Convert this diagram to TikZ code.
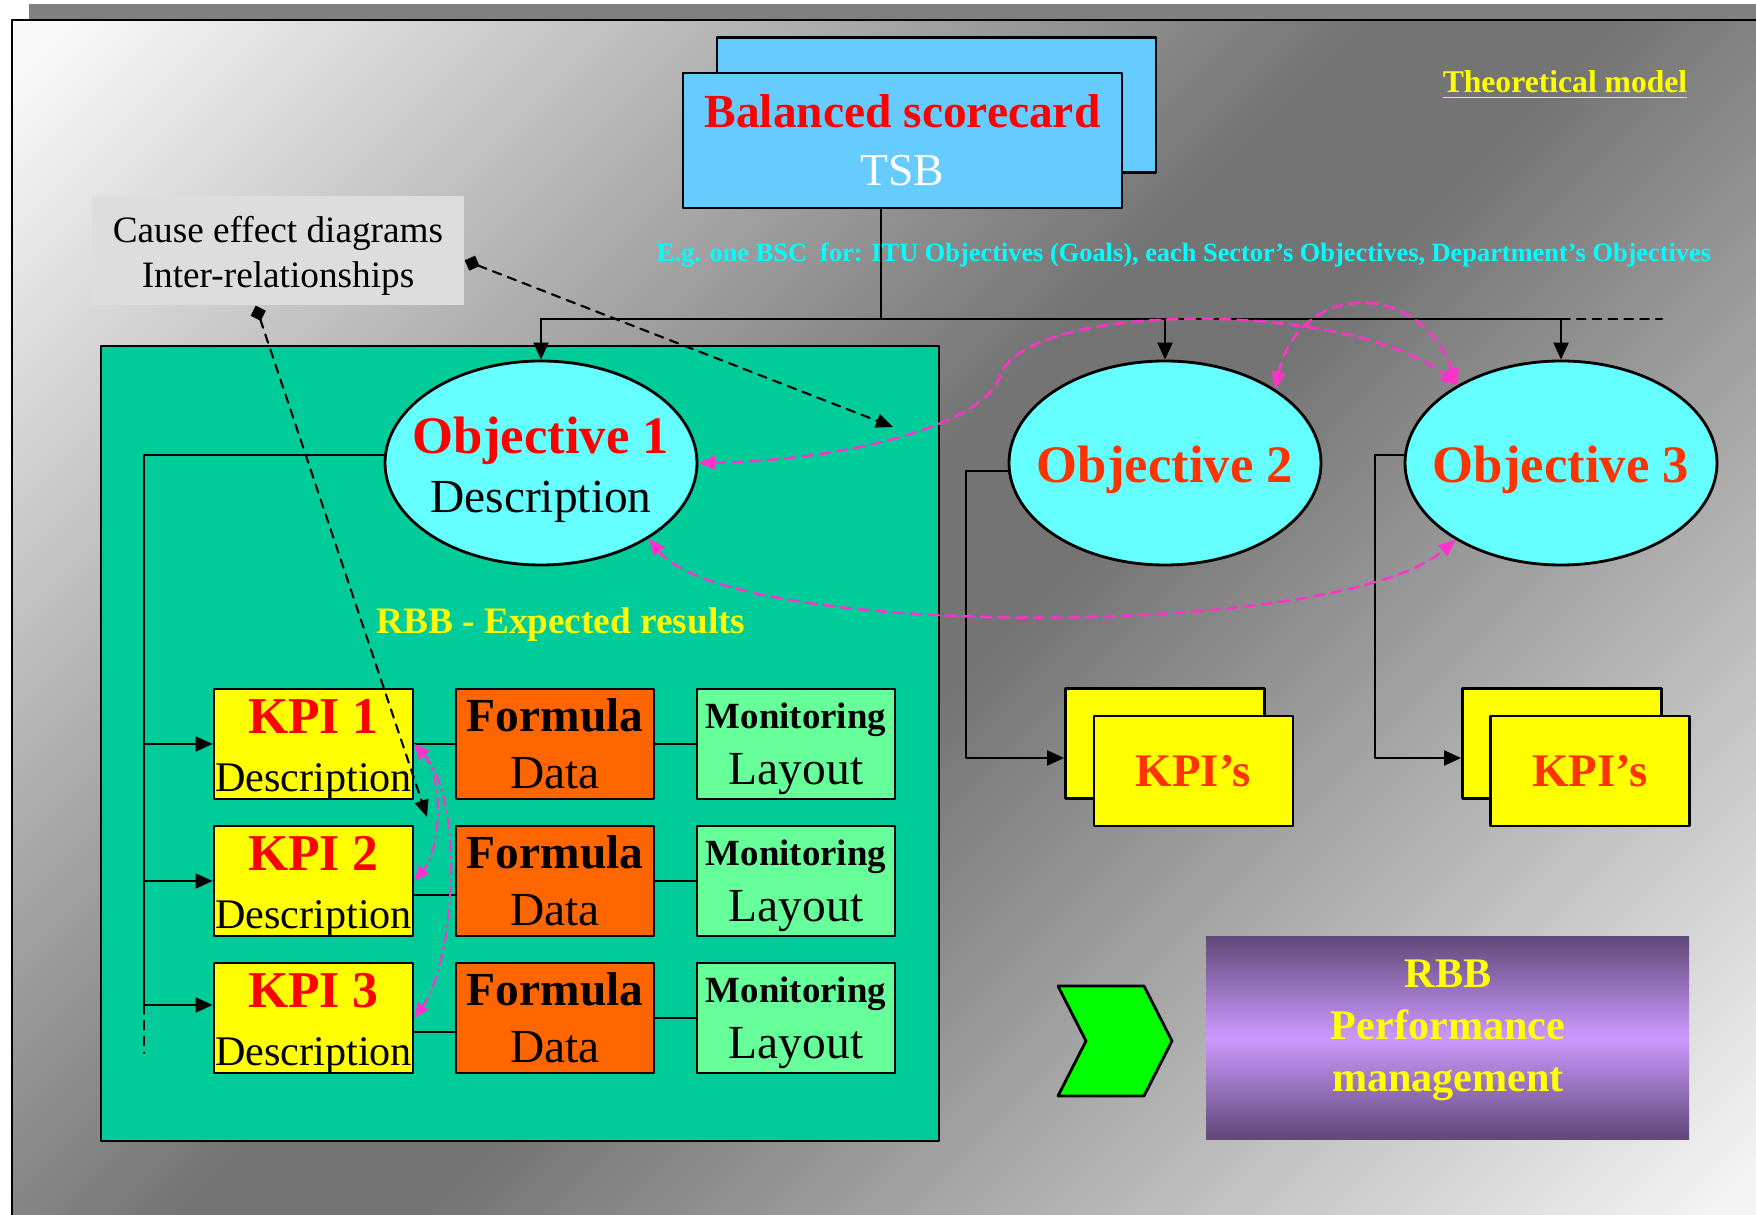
\documentclass[tikz,border=0pt]{standalone}
\usepackage{fontspec}
\setmainfont{Liberation Serif}
\usetikzlibrary{shapes.geometric,arrows.meta}

\definecolor{bglight}{HTML}{F8F8F8}
\definecolor{bgdark}{HTML}{747474}
\definecolor{bgend}{HTML}{F4F4F4}
\definecolor{shadowgray}{HTML}{808080}
\definecolor{bscblue}{HTML}{66CCFF}
\definecolor{objcyan}{HTML}{66FFFF}
\definecolor{panelgreen}{HTML}{00CC99}
\definecolor{kpiyellow}{HTML}{FFFF00}
\definecolor{formorange}{HTML}{FF6600}
\definecolor{monigreen}{HTML}{66FF99}
\definecolor{linkpink}{HTML}{FF33CC}
\definecolor{titlered}{HTML}{FF0000}
\definecolor{objorange}{HTML}{FF3300}
\definecolor{causegray}{HTML}{DDDDDD}
\definecolor{perfdark}{HTML}{604878}
\definecolor{perflight}{HTML}{CC99FF}
\definecolor{chevgreen}{HTML}{00FF00}
\definecolor{notecyan}{HTML}{00FFFF}
\definecolor{noteyellow}{HTML}{FFFF00}
\pgfdeclareverticalshading{bgshade}{100bp}{color(0bp)=(bgend); color(16bp)=(bgend); color(47bp)=(bgdark); color(53bp)=(bgdark); color(84bp)=(bglight); color(100bp)=(bglight)}

\begin{document}
\begin{tikzpicture}[x=0.1mm, y=-0.1mm, line cap=round, line join=round, >={Triangle[length=1.7mm,width=1.5mm]}]
	\tikzset{box style/.style={draw=black, line width=0.8pt, rectangle, inner sep=0pt},
		in text/.style={align=center, inner sep=0pt},
		bsc style/.style={box style, fill=bscblue, minimum width=43.9mm, minimum height=13.5mm, align=center},
		obj style/.style={draw=black, line width=0.8pt, ellipse, fill=objcyan, inner sep=0pt, minimum width=31.2mm, minimum height=20.4mm},
		obj text/.style={in text, font=\fontsize{13.5}{16.8}\selectfont, yshift=-0.65mm},
		kpi style/.style={box style, fill=kpiyellow, minimum width=19.9mm, minimum height=11mm},
		kpi text/.style={in text, font=\fontsize{12}{16.5}\selectfont, yshift=-0.6mm},
		formula style/.style={box style, fill=formorange, minimum width=19.8mm, minimum height=11mm},
		formula text/.style={in text, font=\fontsize{13.5}{16.2}\selectfont},
		monitor style/.style={box style, fill=monigreen, minimum width=19.8mm, minimum height=11mm},
		monitor text/.style={in text, font=\fontsize{13.5}{15.8}\selectfont, yshift=-0.5mm},
		kpis style/.style={box style, fill=kpiyellow, minimum width=19.9mm, minimum height=11mm, text=objorange, font=\fontsize{13.3}{15}\selectfont\bfseries},
		line style/.style={draw=black, line width=0.6pt},
		pink link/.style={draw=linkpink, line width=0.7pt, dash pattern=on 3pt off 2pt, arrows={<->}, >={Triangle[length=1.7mm,width=1.4mm]}},
		pink dashdot/.style={draw=linkpink, line width=0.6pt, dash pattern=on 3pt off 1.5pt on 0.5pt off 1.5pt, arrows={<->}, >={Triangle[length=1.5mm,width=1.3mm]}},
		cause link/.style={draw=black, line width=0.6pt, dash pattern=on 2.5pt off 2pt, arrows={Diamond[length=1.6mm,width=1.6mm]-Triangle[length=1.7mm,width=1.4mm]}}}
	% page and frame
	\fill[white] (0,0) rectangle (1756,1215);
	\useasboundingbox (0,0) rectangle (1756,1215);
	\fill[shadowgray] (29,4) rectangle (1770,40);
	\shade[draw=black, line width=0.7pt, shading=bgshade, shading angle=45] (12,20) rectangle (1770,1230);
	\node[draw=black, line width=0.8pt, fill=panelgreen, minimum width=83.8mm, minimum height=79.5mm] (panel) at (520,743.5) {};
	% scorecard
	\node[bsc style] (bscback) at (936.5,105) {};
	\node[bsc style, text=white, font=\fontsize{13}{16.5}\selectfont] (bsc) at (902.5,140.5) {\textcolor{titlered}{\fontsize{13.5}{16.5}\selectfont\bfseries Balanced scorecard}\\TSB};
	\node[text=noteyellow, font=\fontsize{9}{11}\selectfont\bfseries] (model) at (1565,85) {\underline{Theoretical model}};
	\node[text=notecyan, font=\fontsize{7.5}{9}\selectfont\bfseries] (bscnote) at (1184,255) {E.g. one BSC\ \ for: ITU Objectives (Goals), each Sector's Objectives, Department's Objectives};
	\node[fill=causegray, minimum width=37.2mm, minimum height=10.9mm, inner sep=0pt, label={[in text, font=\fontsize{10.6}{13}\selectfont, yshift=-0.55mm]center:{Cause effect diagrams\\Inter-relationships}}] (cause) at (278,250.5) {};
	% objectives
	\node[obj style, label={[obj text]center:{\textcolor{titlered}{\fontsize{15}{16.8}\selectfont\bfseries Objective 1}\\Description}}] (obj1) at (541,463) {};
	\node[obj style, label={[obj text, text=objorange, font=\fontsize{15}{17}\selectfont\bfseries]center:Objective 2}] (obj2) at (1165,463) {};
	\node[obj style, label={[obj text, text=objorange, font=\fontsize{15}{17}\selectfont\bfseries]center:Objective 3}] (obj3) at (1561,463) {};
	\coordinate (bus) at (881,319);
	\draw[line style] (bus |- bsc.south) -- (bus);
	\draw[line style] (obj1.north |- bus) -- (obj3.north |- bus);
	\draw[line style, dash pattern=on 2.5pt off 2pt] (obj3.north |- bus) -- ++(101,0);
	\draw[line style, ->] (obj1.north |- bus) -- (obj1.north);
	\draw[line style, ->] (obj2.north |- bus) -- (obj2.north);
	\draw[line style, ->] (obj3.north |- bus) -- (obj3.north);
	\node[text=noteyellow, font=\fontsize{10.6}{12}\selectfont\bfseries] (rbbnote) at (561,625) {RBB - Expected results};
	% kpi rows
	\node[kpi style, label={[kpi text]center:{\textcolor{titlered}{\fontsize{14.7}{16.5}\selectfont\bfseries KPI 1}\\Description}}] (kpi1) at (313.5,744) {};
	\node[formula style, label={[formula text]center:{{\bfseries Formula}\\Data}}] (form1) at (555,744) {};
	\node[monitor style, label={[monitor text]center:{{\fontsize{10.5}{15.8}\selectfont\bfseries Monitoring}\\Layout}}] (moni1) at (796,744) {};
	\node[kpi style, label={[kpi text]center:{\textcolor{titlered}{\fontsize{14.7}{16.5}\selectfont\bfseries KPI 2}\\Description}}] (kpi2) at (313.5,881) {};
	\node[formula style, label={[formula text]center:{{\bfseries Formula}\\Data}}] (form2) at (555,881) {};
	\node[monitor style, label={[monitor text]center:{{\fontsize{10.5}{15.8}\selectfont\bfseries Monitoring}\\Layout}}] (moni2) at (796,881) {};
	\node[kpi style, label={[kpi text]center:{\textcolor{titlered}{\fontsize{14.7}{16.5}\selectfont\bfseries KPI 3}\\Description}}] (kpi3) at (313.5,1018) {};
	\node[formula style, label={[formula text]center:{{\bfseries Formula}\\Data}}] (form3) at (555,1018) {};
	\node[monitor style, label={[monitor text]center:{{\fontsize{10.5}{15.8}\selectfont\bfseries Monitoring}\\Layout}}] (moni3) at (796,1018) {};
	\draw[line style] (kpi1.east) -- (form1.west);
	\draw[line style] ([yshift=-1.4mm]kpi2.east) -- ([yshift=-1.4mm]form2.west);
	\draw[line style] ([yshift=-1.4mm]kpi3.east) -- ([yshift=-1.4mm]form3.west);
	\draw[line style] (form1.east) -- (moni1.west);
	\draw[line style] (form2.east) -- (moni2.west);
	\draw[line style] (form3.east) -- (moni3.west);
	\coordinate (kpibus) at (144,1053);
	\coordinate (kpi3in) at ([yshift=1.3mm]kpi3.west);
	\draw[line style] (obj1.177) -| (kpibus |- kpi3in);
	\draw[line style, dash pattern=on 2.5pt off 2pt] (kpibus |- kpi3in) -- (kpibus);
	\draw[line style, ->] (kpibus |- kpi1.west) -- (kpi1.west);
	\draw[line style, ->] (kpibus |- kpi2.west) -- (kpi2.west);
	\draw[line style, ->] (kpibus |- kpi3in) -- (kpi3in);
	% kpi's of the other objectives
	\node[kpis style] (kpis2back) at (1165,743.5) {};
	\node[kpis style] (kpis2) at (1193.5,771) {KPI’s};
	\node[kpis style] (kpis3back) at (1562,743.5) {};
	\node[kpis style] (kpis3) at (1590,771) {KPI’s};
	\draw[line style, ->] (obj2.183) -- ++(-42,0) |- ([yshift=-1.45mm]kpis2back.west);
	\draw[line style, ->] (obj3.177) -- ++(-29,0) |- ([yshift=-1.45mm]kpis3back.west);
	% performance management
	\draw[draw=black, line width=0.8pt, fill=chevgreen] (1058,986) -- (1144,986) -- (1172,1041) -- (1144,1096) -- (1058,1096) -- (1086,1041) -- cycle;
	\node[minimum width=48.3mm, minimum height=20.3mm, inner sep=0pt, top color=perfdark, bottom color=perfdark, middle color=perflight] (perf) at (1447.5,1037.5) {};
	\node[align=center, text=noteyellow, font=\fontsize{12}{14.8}\selectfont\bfseries] (perftext) at (1448,1030.5) {RBB\\Performance\\management};
	% links
	\draw[pink link] (obj1.east) .. controls (860,460) and (990,420) .. (1000,375) .. controls (1030,300) and (1350,300) .. (obj3.143);
	\draw[pink link] (obj2.34) .. controls (1300,280) and (1420,280) .. (obj3.143);
	\draw[pink link] (obj1.325) .. controls (730,640) and (1340,640) .. (obj3.216);
	\draw[pink dashdot] (kpi1.east) .. controls (445,780) and (440,850) .. (kpi2.east);
	\draw[pink dashdot] (kpi1.east) .. controls (465,800) and (455,960) .. (kpi3.east);
	\coordinate (causetipa) at (893,427);
	\coordinate (causetipb) at (427,817);
	\draw[cause link] (cause.-3) -- (causetipa);
	\draw[cause link] (cause.-112) -- (causetipb);
\end{tikzpicture}
\end{document}
